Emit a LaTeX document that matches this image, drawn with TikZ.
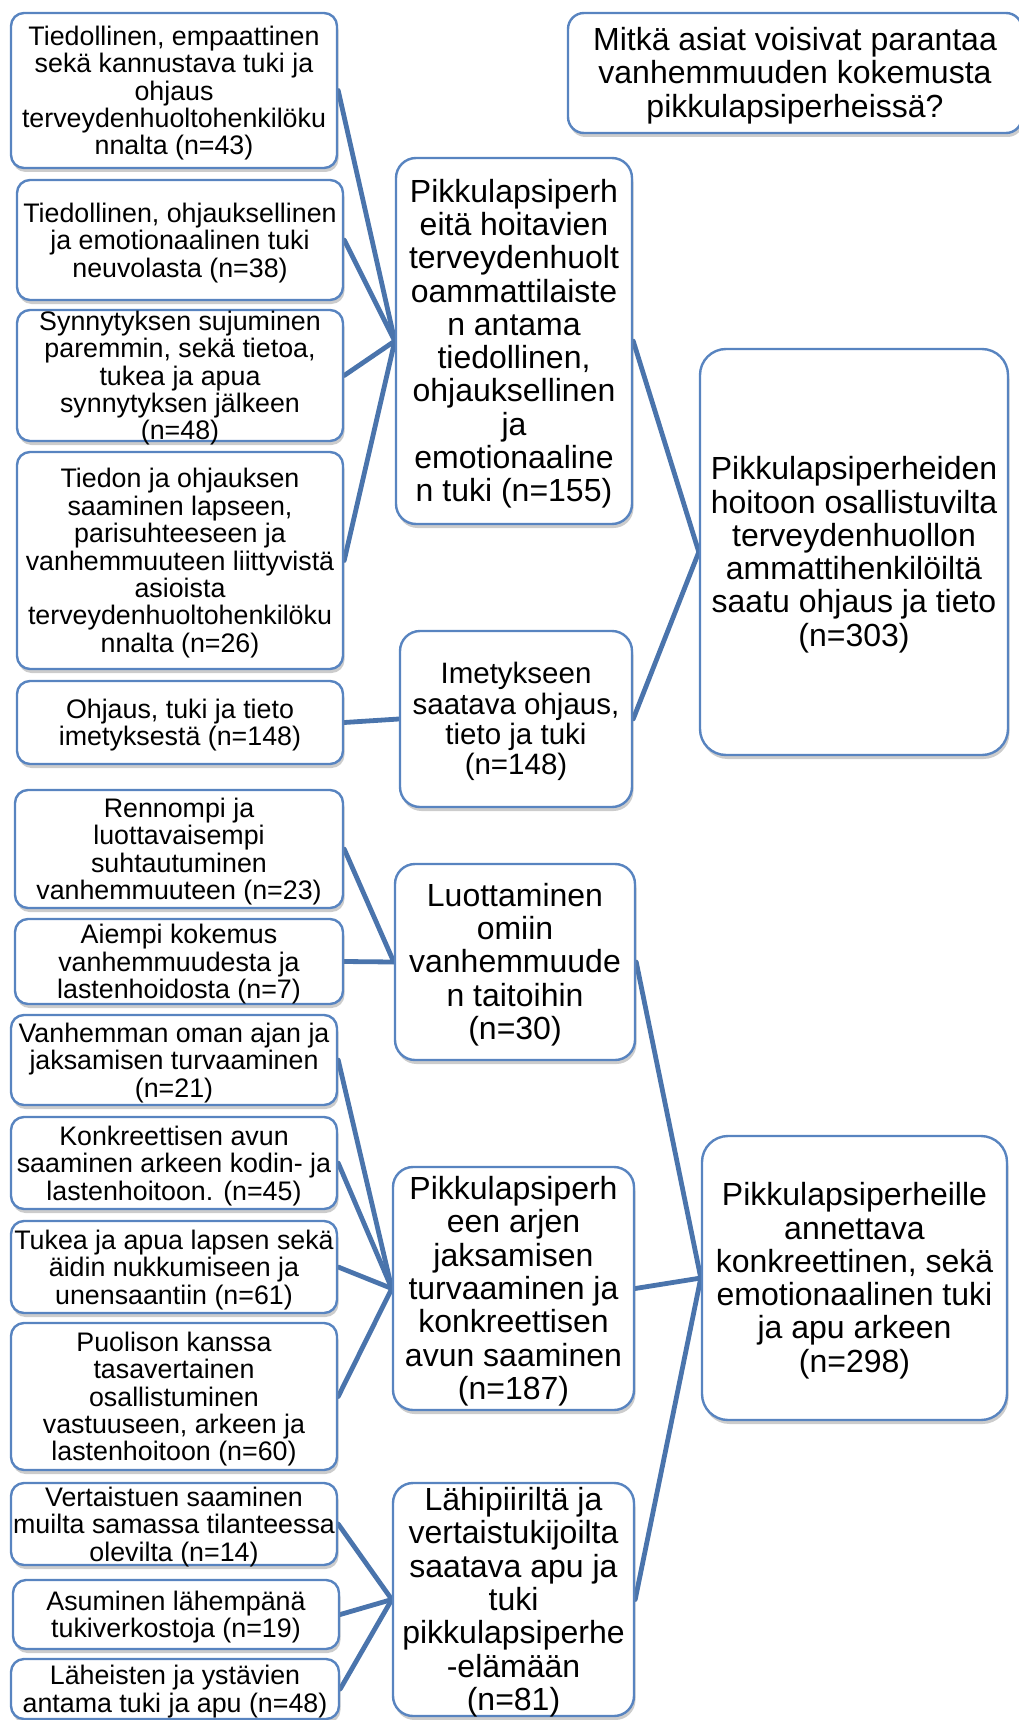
\documentclass[tikz,border=0pt]{standalone}
\usepackage{fontspec}
\setmainfont{Liberation Sans}
\usetikzlibrary{shadows,backgrounds}
\definecolor{edgeblue}{RGB}{74,116,172}
\definecolor{boxblue}{RGB}{88,132,192}
\tikzset{
  basebox/.style={draw=boxblue, line width=2.4pt, fill=white, rounded corners=#1, inner sep=0pt,
    drop shadow={shadow xshift=1.5pt, shadow yshift=-4pt, opacity=0.4}},
  box s/.style={basebox=13pt},
  box m/.style={basebox=20pt},
  box i/.style={basebox=20pt},
  box r/.style={basebox=26pt},
  box t/.style={basebox=16pt},
  basetxt/.style={align=center, inner sep=0pt, text=black, yshift=-2.7pt},
  txt s/.style={basetxt, font=\fontsize{26.8}{27.4}\selectfont},
  txt m/.style={basetxt, font=\fontsize{32}{33.3}\selectfont},
  txt i/.style={basetxt, font=\fontsize{29.5}{30.3}\selectfont},
  txt r/.style={basetxt, font=\fontsize{32}{33.3}\selectfont},
  txt t/.style={basetxt, font=\fontsize{32}{33.5}\selectfont},
  link/.style={draw=edgeblue, line width=4.8pt, line cap=round}
}
\newcommand\mkbox[7]{%
  \node[box #6, minimum width={(#4)-(#2)}, minimum height={(#5)-(#3)}] (#1) at ({((#2)+(#4))/2},{((#3)+(#5))/2}) {};
  \node[txt #6] (#1t) at (#1.center) {#7};}
\begin{document}
\begin{tikzpicture}[x=1pt,y=-1pt]
\useasboundingbox (0,0) rectangle (1019,1720);
% left column
\mkbox{b1}{11}{13}{337}{168}{s}{Tiedollinen, empaattinen\\sekä kannustava tuki ja\\ohjaus\\terveydenhuoltohenkilöku\\nnalta (n=43)}
\mkbox{b2}{17}{180}{343}{300}{s}{Tiedollinen, ohjauksellinen\\ja emotionaalinen tuki\\neuvolasta (n=38)}
\mkbox{b3}{17}{310}{343}{441}{s}{Synnytyksen sujuminen\\paremmin, sekä tietoa,\\tukea ja apua\\synnytyksen jälkeen\\(n=48)}
\mkbox{b4}{17}{452}{343}{669}{s}{Tiedon ja ohjauksen\\saaminen lapseen,\\parisuhteeseen ja\\vanhemmuuteen liittyvistä\\asioista\\terveydenhuoltohenkilöku\\nnalta (n=26)}
\mkbox{b5}{17}{681}{343}{764}{s}{Ohjaus, tuki ja tieto\\imetyksestä (n=148)}
\mkbox{b6}{15}{790}{343}{908}{s}{Rennompi ja\\luottavaisempi\\suhtautuminen\\vanhemmuuteen (n=23)}
\mkbox{b7}{15}{919}{343}{1004}{s}{Aiempi kokemus\\vanhemmuudesta ja\\lastenhoidosta (n=7)}
\mkbox{b8}{11}{1015}{337}{1105}{s}{Vanhemman oman ajan ja\\jaksamisen turvaaminen\\(n=21)}
\mkbox{b9}{11}{1117}{337}{1209}{s}{Konkreettisen avun\\saaminen arkeen kodin- ja\\lastenhoitoon. (n=45)}
\mkbox{b10}{11}{1221}{337}{1313}{s}{Tukea ja apua lapsen sekä\\äidin nukkumiseen ja\\unensaantiin (n=61)}
\mkbox{b11}{11}{1323}{337}{1470}{s}{Puolison kanssa\\tasavertainen\\osallistuminen\\vastuuseen, arkeen ja\\lastenhoitoon (n=60)}
\mkbox{b12}{11}{1483}{337}{1565}{s}{Vertaistuen saaminen\\muilta samassa tilanteessa\\olevilta (n=14)}
\mkbox{b13}{13}{1580}{339}{1649}{s}{Asuminen lähempänä\\tukiverkostoja (n=19)}
\mkbox{b14}{11}{1659}{339}{1719}{s}{Läheisten ja ystävien\\antama tuki ja apu (n=48)}
% middle column
\mkbox{m1}{396}{158}{632}{524}{m}{Pikkulapsiperh\\eitä hoitavien\\terveydenhuolt\\oammattilaiste\\n antama\\tiedollinen,\\ohjauksellinen\\ja\\emotionaaline\\n tuki (n=155)}
\mkbox{m2}{400}{631}{632}{807}{i}{Imetykseen\\saatava ohjaus,\\tieto ja tuki\\(n=148)}
\mkbox{m3}{395}{864}{635}{1060}{m}{Luottaminen\\omiin\\vanhemmuude\\n taitoihin\\(n=30)}
\mkbox{m4}{393}{1167}{634}{1410}{m}{Pikkulapsiperh\\een arjen\\jaksamisen\\turvaaminen ja\\konkreettisen\\avun saaminen\\(n=187)}
\mkbox{m5}{393}{1483}{634}{1716}{m}{Lähipiiriltä ja\\vertaistukijoilta\\saatava apu ja\\tuki\\pikkulapsiperhe\\-elämään\\(n=81)}
% right column
\mkbox{r1}{700}{349}{1008}{755}{r}{Pikkulapsiperheiden\\hoitoon osallistuvilta\\terveydenhuollon\\ammattihenkilöiltä\\saatu ohjaus ja tieto\\(n=303)}
\mkbox{r2}{702}{1136}{1007}{1420}{r}{Pikkulapsiperheille\\annettava\\konkreettinen, sekä\\emotionaalinen tuki\\ja apu arkeen\\(n=298)}
\mkbox{ttl}{568}{13}{1022}{133}{t}{Mitkä asiat voisivat parantaa\\vanhemmuuden kokemusta\\pikkulapsiperheissä?}
% connectors
\begin{pgfonlayer}{background}
\foreach \s in {b1,b2,b3,b4} \draw[link] (\s.east) -- (m1.west);
\draw[link] (b5.east) -- (m2.west);
\foreach \s in {b6,b7} \draw[link] (\s.east) -- (m3.west);
\foreach \s in {b8,b9,b10,b11} \draw[link] (\s.east) -- (m4.west);
\foreach \s in {b12,b13,b14} \draw[link] (\s.east) -- (m5.west);
\foreach \s in {m1,m2} \draw[link] (\s.east) -- (r1.west);
\foreach \s in {m3,m4,m5} \draw[link] (\s.east) -- (r2.west);
\end{pgfonlayer}
\end{tikzpicture}
\end{document}
